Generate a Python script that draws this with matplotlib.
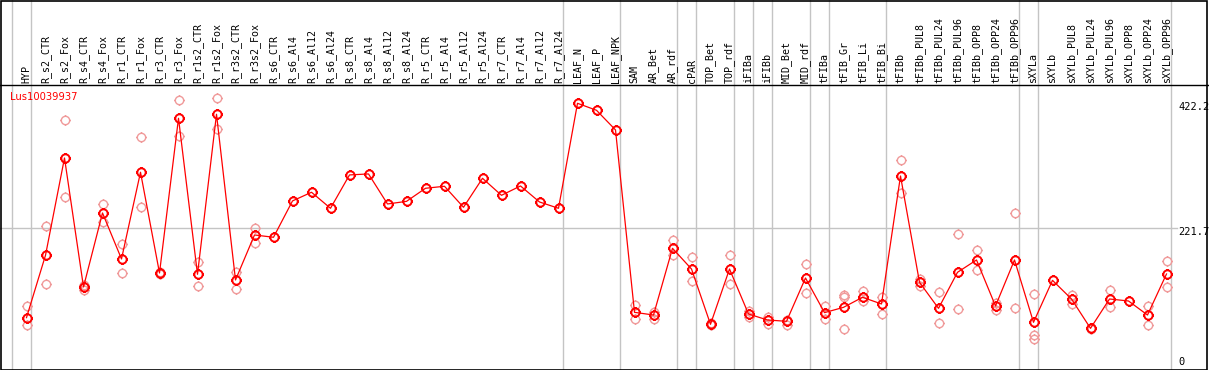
import numpy as np
import matplotlib
matplotlib.use("Agg")
import matplotlib.pyplot as plt
from matplotlib.path import Path

# ---------------- data ----------------
title = "Lus10039937"
categories = [
    "HYP",
    "R_s2_CTR", "R_s2_Fox", "R_s4_CTR", "R_s4_Fox", "R_r1_CTR", "R_r1_Fox",
    "R_r3_CTR", "R_r3_Fox", "R_r1s2_CTR", "R_r1s2_Fox", "R_r3s2_CTR", "R_r3s2_Fox",
    "R_s6_CTR", "R_s6_Al4", "R_s6_Al12", "R_s6_Al24",
    "R_s8_CTR", "R_s8_Al4", "R_s8_Al12", "R_s8_Al24",
    "R_r5_CTR", "R_r5_Al4", "R_r5_Al12", "R_r5_Al24",
    "R_r7_CTR", "R_r7_Al4", "R_r7_Al12", "R_r7_Al24",
    "LEAF_N", "LEAF_P", "LEAF_NPK",
    "SAM", "AR_Bet", "AR_rdf",
    "cPAR",
    "TOP_Bet", "TOP_rdf",
    "iFIBa",
    "iFIBb",
    "MID_Bet", "MID_rdf",
    "tFIBa",
    "tFIB_Gr", "tFIB_Li", "tFIB_Bi",
    "tFIBb", "tFIBb_PUL8", "tFIBb_PUL24", "tFIBb_PUL96", "tFIBb_OPP8", "tFIBb_OPP24", "tFIBb_OPP96",
    "sXYLa",
    "sXYLb", "sXYLb_PUL8", "sXYLb_PUL24", "sXYLb_PUL96", "sXYLb_OPP8", "sXYLb_OPP24", "sXYLb_OPP96",
]
group_sizes = [1, 28, 3, 3, 1, 2, 1, 1, 2, 1, 3, 7, 1, 7]

mean_values = [
    78.4,
    178.4, 334.5, 127.6, 246.3, 172.5, 311.6,
    150.0, 398.2, 147.9, 404.6, 138.8, 211.0,
    207.3, 265.6, 279.5, 253.8,
    307.3, 308.9, 260.7, 264.9,
    285.9, 289.1, 255.4, 301.9,
    274.6, 289.6, 263.9, 253.8,
    422.2, 411.0, 379.5,
    86.9, 82.6, 189.6,
    156.4,
    67.7, 156.4,
    84.2,
    74.6,
    72.5, 142.0,
    86.4,
    94.9, 111.0, 100.3,
    305.6, 135.0, 93.3, 151.1, 170.9, 97.1, 170.9,
    70.9,
    138.2, 108.3, 61.2, 108.3, 105.1, 82.6, 148.4,
]
nan = np.nan
rep_a = [
    97.1,
    224.9, 395.5, 130.8, 260.7, 196.0, 368.3,
    151.0, 427.6, 167.7, 430.3, 151.1, 222.2,
    nan, nan, nan, nan,
    nan, nan, nan, nan,
    nan, nan, nan, nan,
    nan, nan, nan, nan,
    nan, nan, nan,
    98.7, 88.0, 203.0,
    175.2,
    69.8, 178.4,
    89.6,
    78.9,
    74.6, 163.9,
    97.1,
    114.7, 121.7, 111.0,
    331.3, 140.4, 119.0, 212.1, 186.9, 102.4, 245.8,
    115.8,
    nan, 114.7, 62.5, 122.8, nan, 97.1, 169.3,
]
rep_b = [
    66.6,
    131.9, 271.4, 122.8, 231.3, 149.5, 255.4,
    149.0, 369.9, 129.2, 380.6, 123.8, 198.7,
    nan, nan, nan, nan,
    nan, nan, nan, nan,
    nan, nan, nan, nan,
    nan, nan, nan, nan,
    nan, nan, nan,
    75.7, 75.7, 178.9,
    137.2,
    66.6, 132.4,
    78.9,
    68.8,
    66.6, 117.4,
    76.8,
    59.6, 105.1, 83.7,
    277.8, 129.7, 69.8, 91.7, 154.3, 90.6, 93.3,
    50.5,
    nan, 100.8, 60.0, 94.9, nan, 66.6, 127.0,
]
rep_c = [nan] * len(categories)
rep_c[categories.index("tFIB_Gr")] = 111.5
rep_c[categories.index("sXYLa")] = 43.6
ytick_values = [422.2, 221.7, 0]

# ---------------- layout (pixel based) ----------------
W, H = 1209, 370
DPI = 100
HEADER = 85          # header height in px
X0, DX = 26.5, 19.0  # x pixel of first category and spacing
Y_ZERO_FROM_BOTTOM = 3.5
PX_PER_UNIT = 0.6234

fig = plt.figure(figsize=(W / DPI, H / DPI), dpi=DPI)
fig.patch.set_facecolor("white")

xlim = (-X0 / DX, (W - X0) / DX)
plot_h = H - HEADER
ylim = (-Y_ZERO_FROM_BOTTOM / PX_PER_UNIT, (plot_h - Y_ZERO_FROM_BOTTOM) / PX_PER_UNIT)

ax_head = fig.add_axes([0, plot_h / H, 1, HEADER / H])
ax = fig.add_axes([0, 0, 1, plot_h / H])
for a in (ax_head, ax):
    a.set_xlim(*xlim)
    a.set_axis_off()
ax_head.set_ylim(0, HEADER)
ax.set_ylim(*ylim)

x = np.arange(len(categories))

# group separators (gray vertical lines)
bounds = [-1] + list(np.cumsum(group_sizes) - 1)
sep_off = 4.5 / DX
for b in bounds:
    for a in (ax_head, ax):
        a.axvline(b + sep_off, color="#c4c4c4", lw=1.0, zorder=0)

# horizontal gray grid line at middle tick
ax.plot([xlim[0], (1177 - X0) / DX], [ytick_values[1]] * 2, color="#c4c4c4", lw=1.0, zorder=0)

# header labels
for i, c in enumerate(categories):
    ax_head.text(i, 2, c, rotation=90, ha="center", va="bottom",
                 fontsize=7.2, family="DejaVu Sans Mono", color="black")

# marker: circle with four small ticks
circle = Path.unit_circle()
ticks = []
for (dx, dy) in [(0, 1), (0, -1), (1, 0), (-1, 0)]:
    ticks.append(Path([(dx * 1.0, dy * 1.0), (dx * 1.3, dy * 1.3)], [Path.MOVETO, Path.LINETO]))
marker_path = Path.make_compound_path(circle, *ticks)

rep_color = "#f09a9a"
for reps in (rep_a, rep_b, rep_c):
    ax.plot(x, reps, linestyle="none", marker=marker_path, markersize=7.8,
            markerfacecolor="none", markeredgecolor=rep_color, markeredgewidth=1.0, zorder=2)

ax.plot(x, mean_values, color="#ff0000", lw=0.9, zorder=3)
ax.plot(x, mean_values, linestyle="none", marker=marker_path, markersize=7.8,
        markerfacecolor="none", markeredgecolor="#ff0000", markeredgewidth=1.4, zorder=4)

# title
fig.text(10 / W, 1 - 97 / H, title, color="#ff0000", fontsize=7.2, ha="left", va="center",
         family="DejaVu Sans")

# right-hand value labels
def ypix_top(v):
    return HEADER + (plot_h - Y_ZERO_FROM_BOTTOM) - v * PX_PER_UNIT

for v in ytick_values:
    lab = f"{v:g}" if v != 0 else "0"
    if v == 0:
        fig.text(1178 / W, 1 - 365 / H, lab, fontsize=7.5, family="DejaVu Sans Mono",
                 ha="left", va="baseline")
    else:
        fig.text(1178 / W, 1 - (ypix_top(v) - 1) / H, lab, fontsize=7.5, family="DejaVu Sans Mono",
                 ha="left", va="top")

# black frame lines
fig.add_artist(plt.Line2D([0, 1], [plot_h / H, plot_h / H], color="black", lw=1.0,
                          transform=fig.transFigure))
fig.add_artist(plt.Rectangle((0.5 / W, 0.5 / H), 1 - 2.5 / W, 1 - 1.5 / H, fill=False,
                             edgecolor="black", lw=1.2, transform=fig.transFigure))

fig.savefig("out.png", dpi=DPI, facecolor="white")
